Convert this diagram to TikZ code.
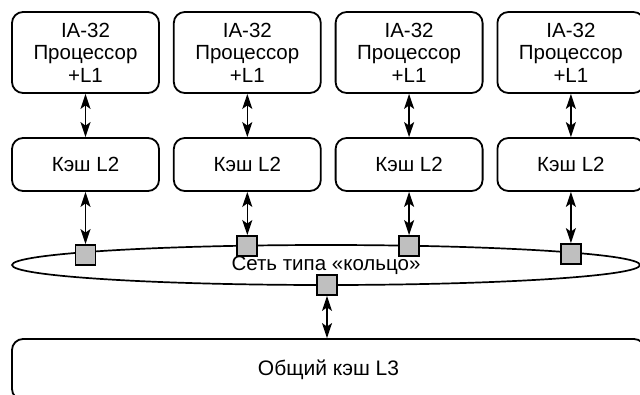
\documentclass[tikz,border=0pt]{standalone}
\usepackage{fontspec}
\setmainfont{Liberation Sans}
\usetikzlibrary{arrows.meta,shapes.geometric}
\begin{document}
\begin{tikzpicture}[x=1pt,y=-1pt,
  box/.style={draw,line width=1.8pt,rounded corners=11pt,inner sep=0pt,align=center},
  cpubox/.style={box,minimum width=147pt,minimum height=81pt,font=\fontsize{20.5}{22.5}\selectfont},
  l2box/.style={box,minimum width=147pt,minimum height=53pt,font=\fontsize{20.5}{24}\selectfont},
  port/.style={draw,line width=1.8pt,fill=gray!50,minimum size=20pt,inner sep=0pt},
  dbl/.style={line width=1.6pt,{Stealth[length=15pt,width=10pt,inset=3.5pt]}-{Stealth[length=15pt,width=10pt,inset=3.5pt]}}
]
\useasboundingbox (0,0) rectangle (640,394);
\clip (0,0) rectangle (640,394);
% processors and L2 caches
\foreach \i/\x in {1/85.5,2/247.3,3/409.1,4/570.9}{
  \node[cpubox] (cpu\i) at (\x,52.5) {IA-32\\Процессор\\+L1};
  \node[l2box] (l2\i) at (\x,164.5) {Кэш L2};
  \draw[dbl] (cpu\i.south) -- (l2\i.north);
}
% ring
\node[ellipse,draw,line width=1.7pt,minimum width=628pt,minimum height=40pt,inner sep=0pt,
  font=\fontsize{20.5}{24}\selectfont] (ring) at (326,265) {Сеть типа «кольцо»};
\node[port] (p1) at (85.5,255) {};
\node[port] (p2) at (247.3,246) {};
\node[port] (p3) at (409.1,246) {};
\node[port] (p4) at (570.9,254) {};
\node[port] (p5) at (327,285) {};
\foreach \i in {1,2,3,4}{
  \draw[dbl] (l2\i.south) -- (p\i.north);
}
% L3
\node[box,minimum width=633pt,minimum height=61pt,font=\fontsize{21}{25}\selectfont] (l3) at (328.5,369.5) {Общий кэш L3};
\draw[dbl] (p5.south) -- (p5.south |- l3.north);
\end{tikzpicture}
\end{document}
